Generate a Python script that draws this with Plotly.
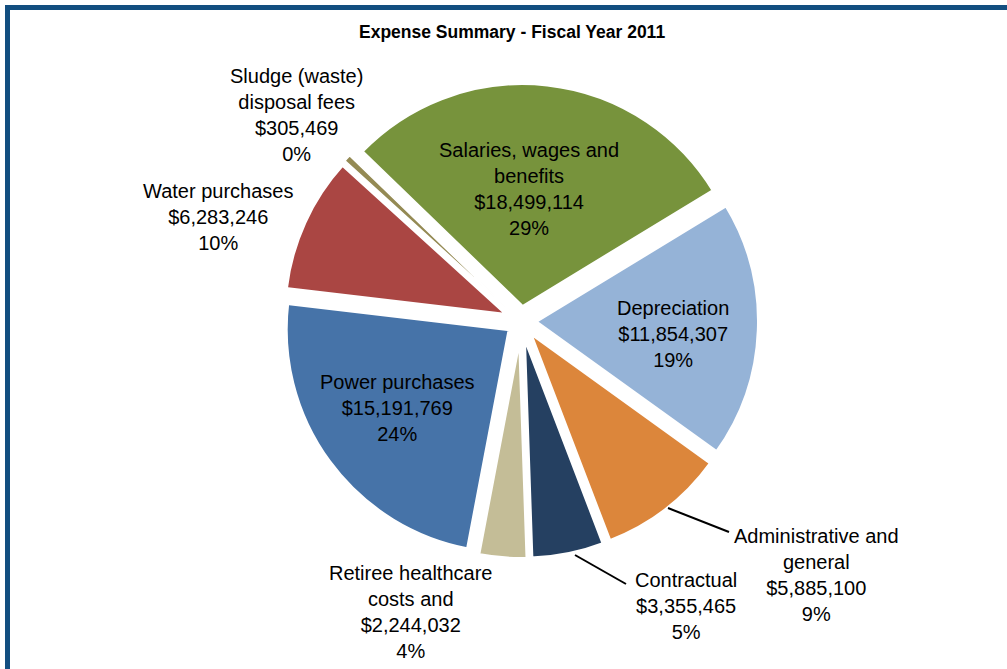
import plotly.graph_objects as go

# ---- data ----
categories = [
    "Salaries, wages and<br>benefits",
    "Depreciation",
    "Administrative and<br>general",
    "Contractual",
    "Retiree healthcare<br>costs and",
    "Power purchases",
    "Water purchases",
    "Sludge (waste)<br>disposal fees",
]
values = [18499114, 11854307, 5885100, 3355465, 2244032, 15191769, 6283246, 305469]
colors = ["#77933C", "#95B3D7", "#DC863B", "#254061", "#C4BD97", "#4673A8", "#AA4643", "#948A54"]
title_text = "Expense Summary - Fiscal Year 2011"

W, H = 1007, 669


def px(x):
    return x / W


def py(y):
    return 1 - y / H


fig = go.Figure()
fig.add_trace(go.Pie(
    labels=categories,
    values=values,
    sort=False,
    direction="clockwise",
    rotation=-46,
    pull=[0.0625] * len(values),
    marker=dict(colors=colors, line=dict(color="white", width=[4, 4, 4, 4, 4, 4, 4, 1.5])),
    textinfo="none",
    domain=dict(x=[px(521 - 238), px(521 + 238)], y=[py(321 + 238), py(321 - 238)]),
    showlegend=False,
    hoverinfo="label+value+percent",
))

total = sum(values)
# label block centres (pixels)
label_pos = {
    "Salaries, wages and<br>benefits": (529, 188.5),
    "Depreciation": (673, 334),
    "Power purchases": (397, 408),
    "Administrative and<br>general": (816, 574.5),
    "Contractual": (686, 606),
    "Retiree healthcare<br>costs and": (410, 611.5),
    "Water purchases": (218, 216.5),
    "Sludge (waste)<br>disposal fees": (296, 115.5),
}
annotations = []
for name, v in zip(categories, values):
    x, y = label_pos[name]
    annotations.append(dict(
        x=px(x), y=py(y), xref="paper", yref="paper",
        text=f"{name}<br>${v:,}<br>{v / total:.0%}",
        showarrow=False, xanchor="center", yanchor="middle",
        font=dict(family="Liberation Sans, Arial, sans-serif", size=20, color="black"),
    ))

annotations.append(dict(
    x=px(512), y=py(32), xref="paper", yref="paper",
    text=f"<b>{title_text}</b>", showarrow=False,
    xanchor="center", yanchor="middle",
    font=dict(family="Liberation Sans, Arial, sans-serif", size=17.5, color="black"),
))

shapes = [
    # leader lines
    dict(type="line", xref="paper", yref="paper",
         x0=px(668), y0=py(508), x1=px(729), y1=py(532),
         line=dict(color="black", width=2)),
    dict(type="line", xref="paper", yref="paper",
         x0=px(575), y0=py(555), x1=px(626), y1=py(584),
         line=dict(color="black", width=2)),
    # frame
    dict(type="rect", xref="paper", yref="paper",
         x0=px(7.5), y0=py(7.5), x1=px(W + 30), y1=py(H + 30),
         line=dict(color="#124E80", width=5), fillcolor="rgba(0,0,0,0)"),
]

fig.update_layout(
    width=W, height=H,
    margin=dict(l=0, r=0, t=0, b=0),
    paper_bgcolor="white",
    plot_bgcolor="white",
    annotations=annotations,
    shapes=shapes,
)

fig.write_html(
    "out.html",
    config={"displayModeBar": False},
    post_script="document.body.style.margin='0';document.body.style.overflow='hidden';",
)
